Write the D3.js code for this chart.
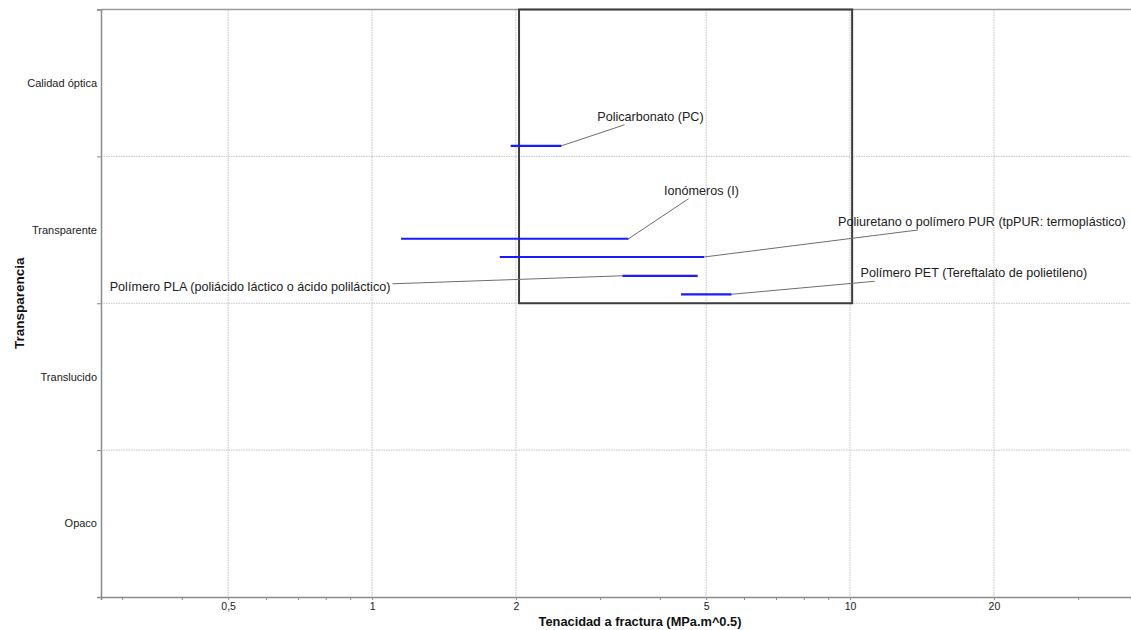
<!DOCTYPE html>
<html>
<head>
<meta charset="utf-8">
<script src="https://cdn.jsdelivr.net/npm/d3@7"></script>
<style>
  html, body { margin: 0; padding: 0; background: #fff; }
  svg { display: block; font-family: "Liberation Sans", Arial, sans-serif; }
</style>
</head>
<body>
<svg id="chart" width="1131" height="630"></svg>
<script>
// ---- data ----
const categories = ["Opaco", "Translucido", "Transparente", "Calidad óptica"]; // bottom to top
const materials = [
  "Policarbonato (PC)",
  "Ionómeros (I)",
  "Poliuretano o polímero PUR (tpPUR: termoplástico)",
  "Polímero PLA (poliácido láctico o ácido poliláctico)",
  "Polímero PET (Tereftalato de polietileno)"
];
const materialCategory = ["Calidad óptica", "Transparente", "Transparente", "Transparente", "Transparente"];
const rowInBand = [0.072, 0.439, 0.315, 0.187, 0.061]; // vertical place inside the category band
const toughnessLow  = [1.95, 1.15, 1.85, 3.34, 4.43];
const toughnessHigh = [2.49, 3.44, 4.95, 4.80, 5.65];
const xMajorTicks = [0.5, 1, 2, 5, 10, 20];
const xMinorTicks = [0.3, 0.4, 0.6, 0.7, 0.8, 0.9, 3, 4, 6, 7, 8, 9, 30];
const xTickLabels = ["0,5", "1", "2", "5", "10", "20"];
const selectionX = [2.03, 10.1];
const selectionCategories = ["Transparente", "Calidad óptica"];
const xTitle = "Tenacidad a fractura (MPa.m^0.5)";
const yTitle = "Transparencia";

// label layout (pixel offsets from the bar end the leader starts at)
const labelLayout = [
  { from: "high", lx: 63,   ly: -21, tx: 89,   ty: -25, anchor: "middle" },
  { from: "high", lx: 60,   ly: -40, tx: 73,   ty: -44, anchor: "middle" },
  { from: "high", lx: 214,  ly: -27, tx: 134,  ty: -31, anchor: "start" },
  { from: "low",  lx: -230, ly: 8,   tx: -232, ty: 15,  anchor: "end" },
  { from: "high", lx: 143,  ly: -13, tx: 129,  ty: -17, anchor: "start" }
];

// ---- chart ----
const svg = d3.select("#chart");
const pL = 101, pR = 1131, pT = 9.5, pB = 597;

const x = d3.scaleLog().domain([0.271, 38.7]).range([pL, pR]);
const y = d3.scaleLinear().domain([0, categories.length]).range([pB, pT]);
const catIndex = c => categories.indexOf(c);

// gridlines
const grid = svg.append("g");
grid.append("g").selectAll("line").data(xMajorTicks).join("line")
  .attr("x1", d => x(d)).attr("x2", d => x(d))
  .attr("y1", pT).attr("y2", pB)
  .attr("stroke", "#c4c4c4").attr("stroke-width", 1).attr("stroke-dasharray", "1.5,1");
grid.append("g").selectAll("line").data(d3.range(1, categories.length)).join("line")
  .attr("x1", pL).attr("x2", pR)
  .attr("y1", d => y(d)).attr("y2", d => y(d))
  .attr("stroke", "#c4c4c4").attr("stroke-width", 1).attr("stroke-dasharray", "1.5,1");

// top border line
svg.append("line").attr("x1", pL).attr("x2", pR).attr("y1", pT).attr("y2", pT)
  .attr("stroke", "#9a9a9a").attr("stroke-width", 1.5);

// x axis
const xAxis = d3.axisBottom(x).tickValues(xMajorTicks)
  .tickFormat((d, i) => xTickLabels[i]).tickSize(3).tickPadding(3);
const gx = svg.append("g").attr("transform", `translate(0,${pB})`).call(xAxis);
gx.select(".domain").attr("stroke", "#8c8c8c").attr("stroke-width", 1.5);
gx.selectAll(".tick line").attr("stroke", "#8c8c8c");
gx.selectAll(".tick text").attr("font-size", 10.5).attr("fill", "#222")
  .attr("font-family", "Liberation Sans, Arial, sans-serif");
const gxm = svg.append("g").attr("transform", `translate(0,${pB})`)
  .call(d3.axisBottom(x).tickValues(xMinorTicks).tickFormat("").tickSize(3));
gxm.select(".domain").remove();
gxm.selectAll(".tick line").attr("stroke", "#8c8c8c");

// y axis
const yAxis = d3.axisLeft(y).tickValues(d3.range(0, categories.length + 1)).tickFormat("").tickSize(4);
const gy = svg.append("g").attr("transform", `translate(${pL},0)`).call(yAxis);
gy.select(".domain").attr("stroke", "#8c8c8c").attr("stroke-width", 1.5);
gy.selectAll(".tick line").attr("stroke", "#8c8c8c");
svg.append("g").selectAll("text").data(categories).join("text")
  .attr("x", pL - 4).attr("y", (d, i) => y(i + 0.5))
  .attr("dy", "0.35em").attr("text-anchor", "end")
  .attr("font-size", 11).attr("fill", "#222").text(d => d);

// selection box
const sy0 = d3.min(selectionCategories, c => catIndex(c));
const sy1 = d3.max(selectionCategories, c => catIndex(c)) + 1;
svg.append("rect")
  .attr("x", x(selectionX[0])).attr("y", y(sy1))
  .attr("width", x(selectionX[1]) - x(selectionX[0]))
  .attr("height", y(sy0) - y(sy1))
  .attr("fill", "none").attr("stroke", "#3c3c3c").attr("stroke-width", 2);

// bars
const rows = materials.map((m, i) => ({
  name: m, low: toughnessLow[i], high: toughnessHigh[i],
  yv: catIndex(materialCategory[i]) + rowInBand[i], lay: labelLayout[i]
}));
const anchorX = d => x(d.lay.from === "high" ? d.high : d.low);

// leaders
svg.append("g").selectAll("line").data(rows).join("line")
  .attr("x1", anchorX)
  .attr("y1", d => y(d.yv))
  .attr("x2", d => anchorX(d) + d.lay.lx)
  .attr("y2", d => y(d.yv) + d.lay.ly)
  .attr("stroke", "#6e6e6e").attr("stroke-width", 1);

svg.append("g").selectAll("line").data(rows).join("line")
  .attr("x1", d => x(d.low)).attr("x2", d => x(d.high))
  .attr("y1", d => y(d.yv)).attr("y2", d => y(d.yv))
  .attr("stroke", "#1a1aff").attr("stroke-width", 2.2);

svg.append("g").selectAll("text").data(rows).join("text")
  .attr("x", d => anchorX(d) + d.lay.tx)
  .attr("y", d => y(d.yv) + d.lay.ty)
  .attr("text-anchor", d => d.lay.anchor)
  .attr("font-size", 12.6).attr("fill", "#222").text(d => d.name);

// titles
svg.append("text").attr("x", 640).attr("y", 626).attr("text-anchor", "middle")
  .attr("font-size", 12.8).attr("font-weight", "bold").attr("fill", "#111").text(xTitle);
svg.append("text").attr("transform", `translate(24,${(pT + pB) / 2}) rotate(-90)`)
  .attr("text-anchor", "middle")
  .attr("font-size", 13.5).attr("font-weight", "bold").attr("fill", "#111").text(yTitle);
</script>
</body>
</html>
